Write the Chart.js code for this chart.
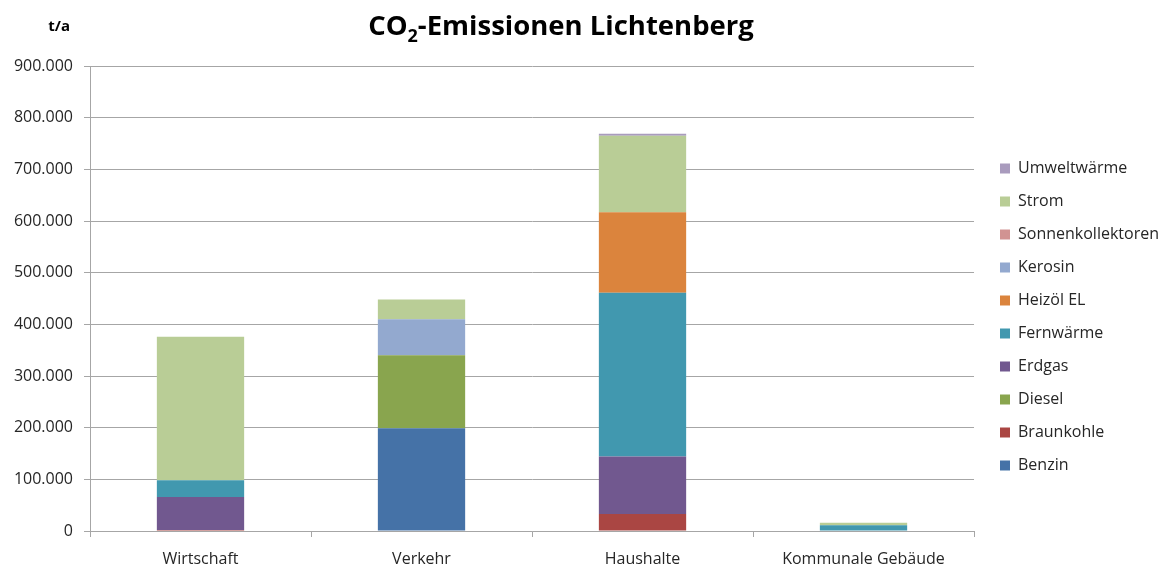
<!DOCTYPE html>
<html lang="de">
<head>
<meta charset="UTF-8">
<title>CO2-Emissionen Lichtenberg</title>
<style>
  body { margin: 0; background: #fff; font-family: "Open Sans", sans-serif; }
  .chart-box { position: relative; width: 1160px; height: 568px; }
</style>
<script src="https://cdn.jsdelivr.net/npm/chart.js"></script>
</head>
<body>
<div class="chart-box"><canvas id="chart"></canvas></div>
<script>
// categories (x axis)
const categories = ['Wirtschaft', 'Verkehr', 'Haushalte', 'Kommunale Gebäude'];

// series values in t/a
const benzin            = [0, 199000, 0, 0];
const braunkohle        = [2000, 0, 33000, 0];
const diesel            = [0, 141000, 0, 0];
const erdgas            = [64000, 0, 111000, 0];
const fernwaerme        = [32000, 0, 317000, 11000];
const heizoel           = [0, 0, 156000, 0];
const kerosin           = [0, 70000, 0, 0];
const sonnenkollektoren = [0, 0, 0, 0];
const strom             = [278000, 38000, 148000, 5000];
const umweltwaerme      = [0, 0, 4000, 0];

const yTicks = [0, 100000, 200000, 300000, 400000, 500000, 600000, 700000, 800000, 900000];

const series = [
  { label: 'Benzin', data: benzin, color: '#4572A7' },
  { label: 'Braunkohle', data: braunkohle, color: '#AA4643' },
  { label: 'Diesel', data: diesel, color: '#89A54E' },
  { label: 'Erdgas', data: erdgas, color: '#71588F' },
  { label: 'Fernwärme', data: fernwaerme, color: '#4198AF' },
  { label: 'Heizöl EL', data: heizoel, color: '#DB843D' },
  { label: 'Kerosin', data: kerosin, color: '#93A9CF' },
  { label: 'Sonnenkollektoren', data: sonnenkollektoren, color: '#D19392' },
  { label: 'Strom', data: strom, color: '#B9CD96' },
  { label: 'Umweltwärme', data: umweltwaerme, color: '#A99BBD' }
];

const gridColor = '#a6a6a6';
const textColor = '#262626';

// title and unit label drawn on the canvas
const titlePlugin = {
  id: 'titlePlugin',
  afterLayout(chart) {
    // nudge the legend a bit to the right, like the original
    chart.legend.left += 9;
    chart.legend.right += 9;
  },
  afterDraw(chart) {
    const ctx = chart.ctx;
    ctx.save();
    ctx.fillStyle = '#000';
    ctx.textBaseline = 'alphabetic';
    const big = 'bold 27.5px "Open Sans", sans-serif';
    const small = 'bold 18px "Open Sans", sans-serif';
    const parts = [['CO', big, 0], ['2', small, 7], ['-Emissionen Lichtenberg', big, 0]];
    let total = 0;
    parts.forEach(p => { ctx.font = p[1]; total += ctx.measureText(p[0]).width; });
    let x = 561 - total / 2;
    parts.forEach(p => {
      ctx.font = p[1];
      ctx.textAlign = 'left';
      ctx.fillText(p[0], x, 35 + p[2]);
      x += ctx.measureText(p[0]).width;
    });
    ctx.font = 'bold 15px "Open Sans", sans-serif';
    ctx.textAlign = 'right';
    ctx.fillText('t/a', 70, 31);
    ctx.restore();
  }
};

new Chart(document.getElementById('chart'), {
  type: 'bar',
  data: {
    labels: categories,
    datasets: series.map(s => ({
      label: s.label,
      data: s.data,
      backgroundColor: s.color,
      borderWidth: 0,
      barPercentage: 0.395,
      categoryPercentage: 1
    }))
  },
  options: {
    responsive: true,
    maintainAspectRatio: false,
    animation: false,
    layout: { padding: { top: 66, left: 0, right: 0, bottom: 0 } },
    plugins: {
      legend: {
        position: 'right',
        reverse: true,
        labels: {
          boxWidth: 10,
          boxHeight: 10,
          padding: 17,
          color: textColor,
          font: { family: 'Open Sans', size: 16 }
        }
      },
      tooltip: { enabled: false }
    },
    scales: {
      x: {
        stacked: true,
        grid: { drawOnChartArea: false, drawTicks: true, tickLength: 6, offset: true, color: gridColor },
        border: { color: gridColor },
        ticks: { color: textColor, padding: 13, font: { family: 'Open Sans', size: 16 } },
        afterFit: scale => { scale.height = 37; }
      },
      y: {
        stacked: true,
        min: 0,
        max: 900000,
        afterBuildTicks: scale => { scale.ticks = yTicks.map(v => ({ value: v })); },
        grid: { color: gridColor, tickLength: 6 },
        border: { color: gridColor },
        ticks: {
          color: textColor,
          padding: 11,
          font: { family: 'Open Sans', size: 16 },
          callback: v => v.toLocaleString('de-DE')
        },
        afterFit: scale => { scale.width = 90; }
      }
    }
  },
  plugins: [titlePlugin]
});
</script>
</body>
</html>
